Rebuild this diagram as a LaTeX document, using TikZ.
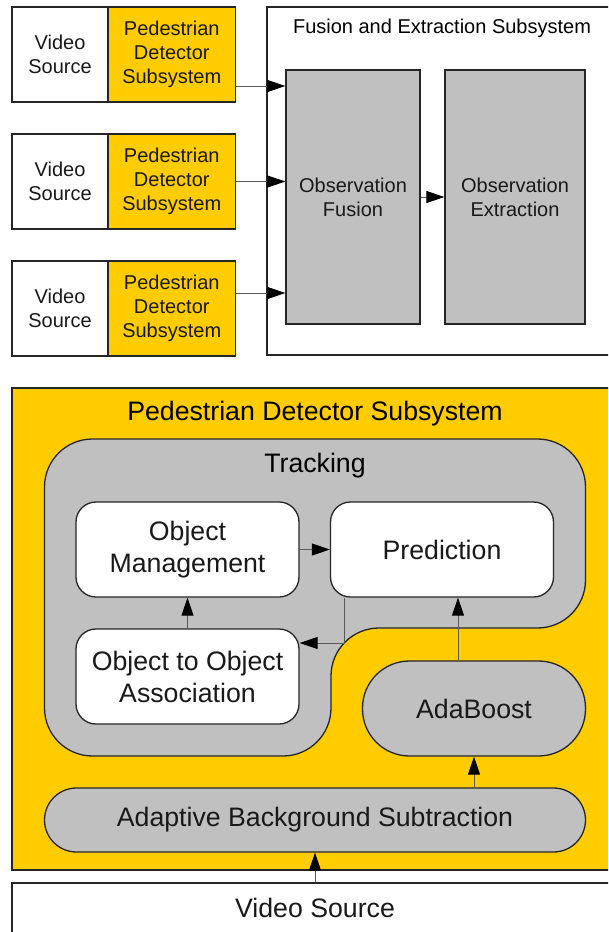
\documentclass[tikz,border=0pt]{standalone}
\usepackage{fontspec}
\setmainfont{Liberation Sans}
\usepackage{xcolor}
\usepackage{tikz}
\usetikzlibrary{arrows.meta, positioning, calc}
\definecolor{pdyellow}{HTML}{FFCC00}
\definecolor{boxgray}{HTML}{C0C0C0}

\begin{document}
\begin{tikzpicture}[
    x=1pt, y=-1pt,
    block/.style={rectangle, draw=black!85, line width=1.3pt, align=center, inner sep=0pt, text=black!90},
    smalltext/.style={font=\fontsize{20}{24}\selectfont},
    bigtext/.style={font=\fontsize{26.7}{32}\selectfont},
    source/.style={block, smalltext, fill=white, minimum width=96pt, minimum height=95pt},
    detector/.style={block, smalltext, fill=pdyellow, minimum width=127.5pt, minimum height=95pt},
    stage/.style={block, smalltext, fill=boxgray, minimum height=254pt},
    module/.style={block, bigtext, fill=white, rounded corners=20pt, minimum width=223pt, minimum height=95pt},
    pill/.style={block, bigtext, fill=boxgray, rounded corners=#1},
    track/.style={draw=black!85, line width=1.3pt, fill=boxgray, rounded corners=48pt},
    flow/.style={-{Triangle[length=18pt, width=12pt, color=black]}, line width=0.9pt, draw=black!65}
  ]

    \clip (0,0) rectangle (608,932);
    \fill[white] (0,0) rectangle (608,932);

    % Sources and detectors
    \node[source] (vs1) at (60,54.5) {Video\\Source};
    \node[detector] (pd1) at (171.75,54.5) {Pedestrian\\Detector\\Subsystem};
    \node[source] (vs2) at (60,181.5) {Video\\Source};
    \node[detector] (pd2) at (171.75,181.5) {Pedestrian\\Detector\\Subsystem};
    \node[source] (vs3) at (60,308.5) {Video\\Source};
    \node[detector] (pd3) at (171.75,308.5) {Pedestrian\\Detector\\Subsystem};

    % Fusion and extraction
    \node[block, fill=white, minimum width=351pt, minimum height=348pt] (fes) at (442.5,181) {};
    \node[smalltext] (festitle) at (442,28) {Fusion and Extraction Subsystem};
    \node[stage, minimum width=134pt] (obsf) at (353,197) {Observation\\Fusion};
    \node[stage, minimum width=140pt] (obse) at (515,197) {Observation\\Extraction};

    % Pedestrian detector subsystem
    \node[block, fill=pdyellow, minimum width=606pt, minimum height=482pt] (pds) at (315,629) {};
    \node[bigtext] (pdstitle) at (315,414) {Pedestrian Detector Subsystem};
    \draw[track] (315,439) -- (585.5,439) -- (585.5,628) -- (331,628) -- (331,756) -- (44.5,756) -- (44.5,439) -- cycle;
    \node[bigtext] (tracktitle) at (315,466) {Tracking};
    \node[module] (objm) at (187.5,549.5) {Object\\Management};
    \node[module] (pred) at (442,549.5) {Prediction};
    \node[module] (assoc) at (187.5,676.5) {Object to Object\\Association};
    \node[pill=47pt, minimum width=223pt, minimum height=95pt] (ada) at (474,708.5) {AdaBoost};
    \node[pill=32pt, minimum width=541pt, minimum height=64pt] (abs) at (315,820) {Adaptive Background Subtraction};
    \node[block, bigtext, fill=white, minimum width=606pt, minimum height=50pt] (vsrc) at (315,908) {Video Source};

    % Flows
    \coordinate (in1) at ([yshift=-31.5pt]pd1.east);
    \coordinate (in3) at ([yshift=15.5pt]pd3.east);
    \draw[flow] (in1) -- (in1 -| obsf.west);
    \draw[flow] (pd2.east) -- (pd2.east -| obsf.west);
    \draw[flow] (in3) -- (in3 -| obsf.west);
    \draw[flow] (obsf) -- (obse);

    \draw[flow] (objm) -- (pred);
    \draw[flow] ([xshift=-98pt]pred.south) |- ([yshift=33.5pt]assoc.east);
    \draw[flow] (assoc) -- (objm);
    \coordinate (up1) at ([xshift=-16pt]ada.north);
    \draw[flow] (up1) -- (up1 |- pred.south);
    \draw[flow] (abs.north -| ada.south) -- (ada);
    \draw[flow] (vsrc) -- (abs);

\end{tikzpicture}
\end{document}
